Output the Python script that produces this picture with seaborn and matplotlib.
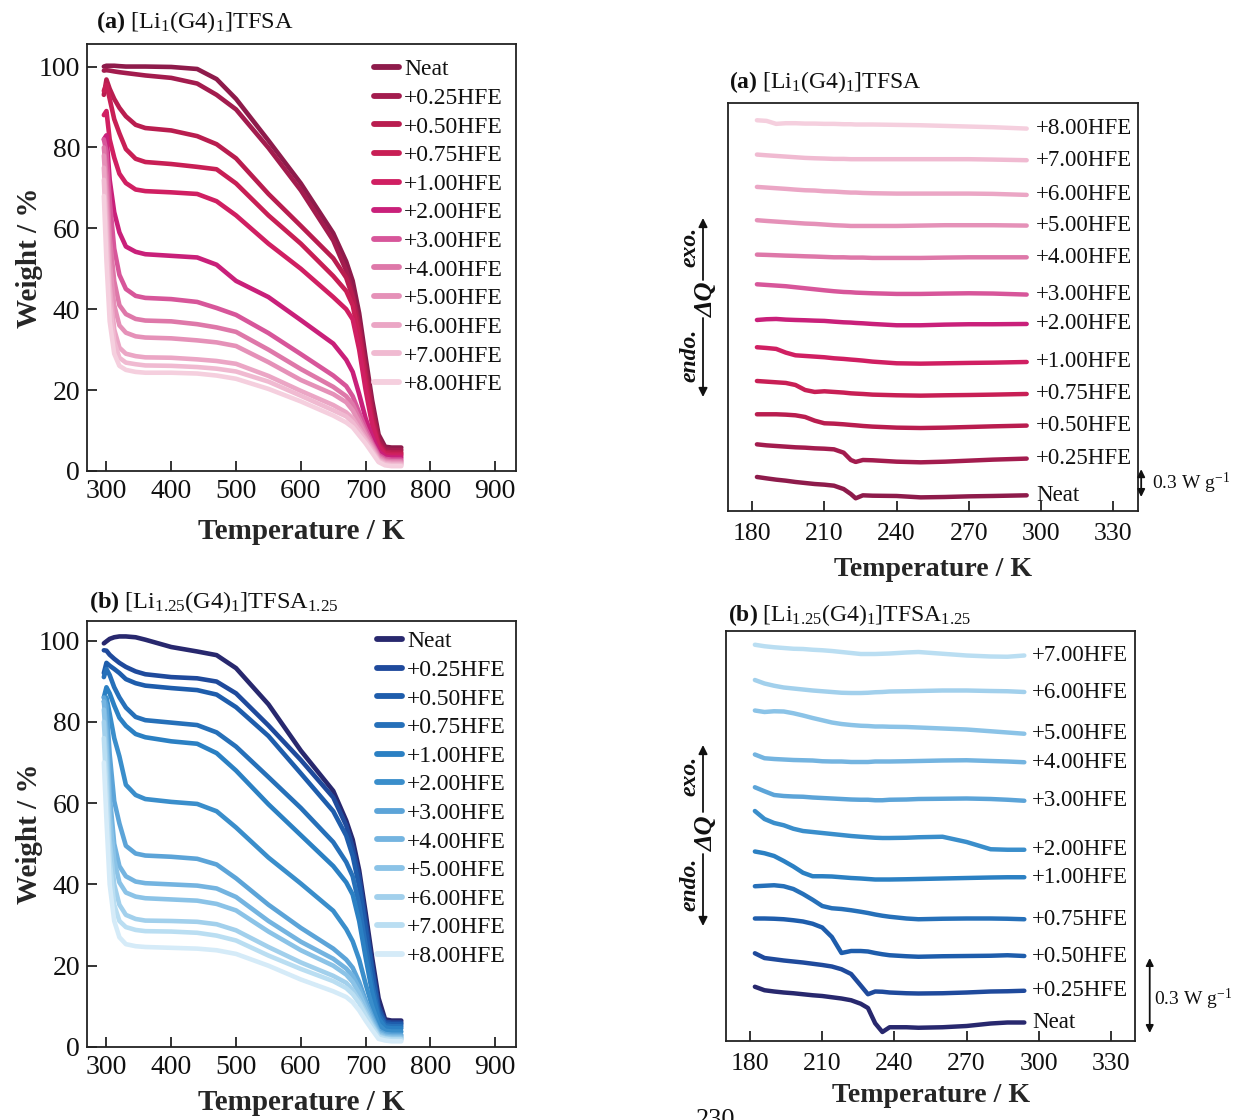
import numpy as np
import pandas as pd
import matplotlib
matplotlib.use("Agg")
import matplotlib.pyplot as plt
import matplotlib.transforms as mtransforms
import seaborn as sns

# ---------------- data ----------------
samples = ["Neat", "+0.25HFE", "+0.50HFE", "+0.75HFE", "+1.00HFE", "+2.00HFE",
           "+3.00HFE", "+4.00HFE", "+5.00HFE", "+6.00HFE", "+7.00HFE", "+8.00HFE"]

pink = ["#8E1B4B", "#A31C4E", "#B91D4F", "#C81F55", "#D01F62", "#C9207A",
        "#D7569A", "#DE78A9", "#E591B8", "#EBA6C5", "#F0BAD1", "#F5CFDE"]
blue = ["#28286E", "#1F4A9C", "#1E5DAC", "#2670B9", "#2B80C3", "#3A8ECB",
        "#5CA4D8", "#74B4E0", "#8BC3E7", "#A2D0EC", "#BADEF2", "#D5EBF8"]

# TGA temperature grid (K)
tga_T = [296, 300, 305, 312, 320, 330, 345, 360, 400, 440, 470, 500,
         550, 600, 650, 670, 680, 690, 700, 710, 720, 730, 740, 755]

# (a) [Li1(G4)1]TFSA  weight / %
tga_a_neat = [100.0, 100.2, 100.2, 100.2, 100.1, 100.0, 100.0, 100.0, 99.9, 99.4, 96.9, 92.0, 81.7, 71.1, 58.8, 51.8, 47.0, 39.0, 28.0, 17.5, 9.0, 6.0, 5.8, 5.8]
tga_a_025 = [99.0, 99.1, 99.0, 98.8, 98.6, 98.4, 98.1, 97.8, 97.2, 95.8, 93.0, 89.4, 79.9, 69.4, 57.0, 49.5, 44.0, 36.5, 26.0, 16.0, 8.0, 5.4, 5.2, 5.2]
tga_a_050 = [93.0, 96.8, 94.5, 92.0, 89.8, 87.7, 85.6, 84.8, 84.2, 82.8, 80.8, 77.3, 68.5, 60.6, 52.6, 47.8, 43.0, 35.0, 24.0, 14.0, 7.0, 4.8, 4.6, 4.6]
tga_a_075 = [94.0, 95.5, 92.0, 87.0, 83.5, 79.6, 77.2, 76.4, 75.9, 75.2, 74.6, 71.1, 63.2, 56.2, 48.2, 44.5, 41.0, 33.0, 22.0, 12.5, 6.5, 4.4, 4.2, 4.2]
tga_a_100 = [88.0, 89.0, 82.0, 77.5, 73.5, 71.2, 69.6, 69.2, 68.9, 68.5, 66.7, 63.2, 56.2, 50.0, 43.0, 40.0, 37.5, 30.0, 20.0, 11.5, 6.0, 4.0, 3.8, 3.8]
tga_a_200 = [82.0, 83.0, 72.0, 64.0, 59.0, 55.5, 54.2, 53.6, 53.2, 52.8, 51.0, 47.0, 43.0, 37.3, 31.5, 27.5, 24.5, 19.0, 13.0, 8.5, 4.8, 3.5, 3.3, 3.3]
tga_a_300 = [82.0, 79.0, 67.0, 55.0, 48.5, 45.0, 43.3, 42.8, 42.5, 41.8, 40.3, 38.6, 34.1, 28.9, 23.6, 21.0, 18.5, 14.5, 10.5, 7.0, 4.0, 3.0, 2.8, 2.8]
tga_a_400 = [80.0, 73.0, 58.0, 47.0, 41.0, 38.8, 37.6, 37.2, 37.0, 36.3, 35.5, 34.4, 30.0, 25.2, 20.8, 18.5, 16.5, 13.0, 9.5, 6.5, 3.6, 2.6, 2.4, 2.4]
tga_a_500 = [78.0, 68.0, 52.0, 41.0, 36.0, 34.2, 33.3, 33.0, 32.8, 32.3, 31.8, 30.9, 26.9, 22.5, 19.0, 17.0, 15.0, 12.0, 8.8, 6.0, 3.2, 2.3, 2.1, 2.1]
tga_a_600 = [75.0, 63.0, 46.0, 35.0, 30.5, 29.0, 28.4, 28.1, 28.0, 27.6, 27.2, 26.5, 23.5, 19.8, 16.3, 14.5, 13.0, 10.5, 8.0, 5.5, 2.8, 2.0, 1.8, 1.8]
tga_a_700 = [72.0, 58.0, 42.0, 32.0, 28.0, 26.8, 26.4, 26.1, 26.0, 25.7, 25.3, 24.6, 22.1, 18.6, 15.0, 13.5, 12.0, 9.8, 7.5, 5.0, 2.5, 1.7, 1.5, 1.5]
tga_a_800 = [68.0, 52.0, 37.0, 29.0, 26.0, 25.0, 24.5, 24.3, 24.3, 24.1, 23.6, 22.8, 20.3, 17.2, 13.7, 12.0, 10.8, 8.8, 6.8, 4.5, 2.2, 1.4, 1.2, 1.2]

# (b) [Li1.25(G4)1]TFSA1.25  weight / %
tga_b_neat = [99.3, 99.8, 100.4, 100.8, 101.0, 101.0, 100.8, 100.2, 98.4, 97.3, 96.4, 93.2, 84.3, 72.9, 63.0, 55.7, 51.0, 43.5, 33.0, 22.0, 12.0, 6.8, 6.5, 6.5]
tga_b_025 = [97.6, 97.5, 96.5, 95.5, 94.5, 93.5, 92.4, 91.7, 91.0, 90.7, 89.9, 87.0, 79.1, 70.6, 61.4, 54.5, 49.0, 42.0, 31.0, 20.0, 10.0, 6.2, 6.0, 6.0]
tga_b_050 = [92.0, 94.5, 93.8, 93.0, 92.0, 90.5, 89.5, 88.9, 88.3, 87.8, 86.7, 83.6, 76.5, 67.3, 58.0, 52.0, 47.0, 39.5, 29.0, 18.5, 9.0, 5.8, 5.6, 5.6]
tga_b_075 = [91.0, 93.0, 91.5, 88.5, 86.0, 83.5, 81.2, 80.4, 79.8, 79.2, 77.4, 73.9, 66.4, 58.8, 50.4, 45.5, 42.0, 35.0, 25.0, 15.5, 8.0, 5.3, 5.1, 5.1]
tga_b_100 = [86.0, 88.5, 87.0, 84.0, 81.0, 79.0, 77.0, 76.2, 75.2, 74.6, 72.3, 68.0, 59.7, 52.1, 44.5, 40.5, 37.5, 31.0, 22.0, 13.5, 7.0, 4.8, 4.6, 4.6]
tga_b_200 = [85.0, 86.0, 82.0, 76.0, 71.5, 64.5, 62.0, 61.0, 60.3, 59.8, 58.0, 54.0, 46.6, 40.2, 33.5, 29.0, 26.0, 21.5, 15.5, 10.0, 5.5, 4.0, 3.8, 3.8]
tga_b_300 = [86.0, 84.0, 72.0, 60.5, 55.0, 49.5, 47.6, 47.1, 46.8, 46.3, 44.9, 41.5, 35.0, 29.3, 24.2, 21.5, 19.5, 16.0, 11.5, 7.5, 4.0, 3.2, 3.0, 3.0]
tga_b_400 = [85.0, 78.0, 62.0, 50.0, 44.5, 42.0, 40.7, 40.3, 40.0, 39.7, 39.0, 36.9, 31.0, 25.9, 21.7, 19.3, 17.5, 14.5, 10.5, 6.8, 3.6, 2.8, 2.6, 2.6]
tga_b_500 = [83.0, 74.0, 57.0, 46.0, 40.5, 38.0, 37.0, 36.6, 36.3, 36.0, 35.2, 33.6, 28.4, 23.8, 20.0, 17.8, 16.0, 13.2, 9.5, 6.0, 3.2, 2.5, 2.3, 2.3]
tga_b_600 = [80.0, 69.0, 51.0, 40.0, 35.0, 32.5, 31.5, 31.1, 31.0, 30.8, 30.2, 28.7, 24.6, 20.8, 17.5, 15.8, 14.0, 11.5, 8.5, 5.5, 2.8, 2.2, 2.0, 2.0]
tga_b_700 = [76.0, 63.0, 46.0, 35.0, 31.0, 29.5, 28.8, 28.5, 28.4, 28.1, 27.4, 26.2, 22.5, 19.2, 16.2, 14.5, 13.0, 10.8, 7.8, 5.0, 2.5, 2.0, 1.8, 1.8]
tga_b_800 = [70.0, 56.0, 40.0, 31.0, 27.0, 25.3, 24.8, 24.6, 24.4, 24.2, 23.8, 22.9, 20.0, 16.6, 13.7, 12.3, 11.0, 9.0, 6.5, 4.2, 2.0, 1.6, 1.4, 1.4]

# DSC (a): temperature grid (K) and offset-stacked heat flow (W g-1)
dsc_a_T = [182, 186, 190, 194, 198, 202, 206, 210, 214, 218, 221, 223, 226, 230, 240, 250, 260, 270, 280, 294]
dsc_a_neat = [0.367, 0.352, 0.338, 0.327, 0.313, 0.302, 0.291, 0.284, 0.273, 0.237, 0.183, 0.137, 0.169, 0.165, 0.162, 0.147, 0.151, 0.158, 0.162, 0.169]
dsc_a_025 = [0.719, 0.708, 0.701, 0.694, 0.687, 0.683, 0.676, 0.672, 0.665, 0.629, 0.550, 0.529, 0.550, 0.547, 0.532, 0.525, 0.532, 0.543, 0.554, 0.565]
dsc_a_050 = [1.043, 1.043, 1.043, 1.039, 1.032, 1.014, 0.974, 0.946, 0.942, 0.935, 0.928, 0.924, 0.917, 0.910, 0.899, 0.895, 0.899, 0.906, 0.913, 0.921]
dsc_a_075 = [1.402, 1.395, 1.388, 1.381, 1.359, 1.305, 1.284, 1.291, 1.284, 1.277, 1.269, 1.266, 1.262, 1.255, 1.248, 1.244, 1.248, 1.251, 1.255, 1.262]
dsc_a_100 = [1.766, 1.758, 1.748, 1.708, 1.679, 1.672, 1.665, 1.658, 1.647, 1.640, 1.633, 1.629, 1.622, 1.611, 1.593, 1.589, 1.593, 1.597, 1.600, 1.607]
dsc_a_200 = [2.060, 2.068, 2.071, 2.064, 2.060, 2.057, 2.053, 2.050, 2.042, 2.035, 2.032, 2.028, 2.024, 2.017, 2.003, 2.003, 2.010, 2.014, 2.014, 2.017]
dsc_a_300 = [2.445, 2.438, 2.431, 2.424, 2.413, 2.402, 2.391, 2.380, 2.370, 2.362, 2.359, 2.355, 2.352, 2.348, 2.341, 2.341, 2.345, 2.348, 2.345, 2.334]
dsc_a_400 = [2.765, 2.762, 2.758, 2.754, 2.751, 2.747, 2.744, 2.740, 2.736, 2.736, 2.733, 2.733, 2.733, 2.729, 2.729, 2.729, 2.733, 2.736, 2.736, 2.736]
dsc_a_500 = [3.136, 3.128, 3.121, 3.114, 3.107, 3.100, 3.096, 3.089, 3.082, 3.078, 3.074, 3.074, 3.074, 3.074, 3.074, 3.078, 3.082, 3.082, 3.082, 3.078]
dsc_a_600 = [3.495, 3.488, 3.481, 3.474, 3.466, 3.459, 3.456, 3.448, 3.445, 3.438, 3.434, 3.434, 3.430, 3.427, 3.423, 3.423, 3.423, 3.423, 3.420, 3.409]
dsc_a_700 = [3.844, 3.836, 3.829, 3.822, 3.815, 3.808, 3.804, 3.801, 3.797, 3.797, 3.794, 3.794, 3.794, 3.794, 3.794, 3.794, 3.794, 3.794, 3.790, 3.783]
dsc_a_800 = [4.214, 4.207, 4.175, 4.182, 4.182, 4.178, 4.178, 4.175, 4.175, 4.171, 4.171, 4.168, 4.168, 4.168, 4.164, 4.160, 4.153, 4.146, 4.139, 4.124]

# DSC (b)
dsc_b_T = [182, 186, 190, 194, 198, 202, 206, 210, 214, 218, 222, 226, 229, 232, 235, 238, 245, 250, 260, 270, 280, 287, 294]
dsc_b_neat = [0.215, 0.201, 0.196, 0.192, 0.189, 0.185, 0.181, 0.178, 0.173, 0.168, 0.161, 0.147, 0.130, 0.069, 0.034, 0.053, 0.053, 0.051, 0.053, 0.058, 0.068, 0.072, 0.072]
dsc_b_025 = [0.349, 0.330, 0.325, 0.320, 0.316, 0.312, 0.307, 0.302, 0.296, 0.285, 0.266, 0.220, 0.185, 0.196, 0.195, 0.192, 0.189, 0.188, 0.189, 0.192, 0.196, 0.197, 0.199]
dsc_b_050 = [0.488, 0.488, 0.487, 0.485, 0.481, 0.476, 0.467, 0.452, 0.414, 0.350, 0.358, 0.358, 0.356, 0.350, 0.345, 0.341, 0.337, 0.335, 0.337, 0.338, 0.339, 0.341, 0.338]
dsc_b_075 = [0.617, 0.619, 0.621, 0.617, 0.606, 0.586, 0.563, 0.538, 0.529, 0.526, 0.521, 0.515, 0.510, 0.504, 0.499, 0.495, 0.488, 0.485, 0.487, 0.488, 0.488, 0.487, 0.485]
dsc_b_100 = [0.756, 0.749, 0.738, 0.718, 0.696, 0.671, 0.657, 0.657, 0.656, 0.653, 0.650, 0.648, 0.646, 0.644, 0.644, 0.644, 0.645, 0.646, 0.648, 0.650, 0.652, 0.653, 0.653]
dsc_b_200 = [0.918, 0.886, 0.870, 0.861, 0.847, 0.838, 0.834, 0.830, 0.826, 0.822, 0.818, 0.815, 0.813, 0.811, 0.810, 0.810, 0.811, 0.813, 0.815, 0.794, 0.765, 0.763, 0.763]
dsc_b_300 = [1.013, 0.997, 0.982, 0.978, 0.976, 0.975, 0.972, 0.970, 0.968, 0.966, 0.964, 0.963, 0.963, 0.961, 0.961, 0.963, 0.964, 0.966, 0.967, 0.968, 0.966, 0.963, 0.959]
dsc_b_400 = [1.144, 1.129, 1.126, 1.124, 1.122, 1.121, 1.120, 1.117, 1.116, 1.116, 1.114, 1.114, 1.114, 1.116, 1.116, 1.116, 1.117, 1.118, 1.120, 1.121, 1.118, 1.116, 1.113]
dsc_b_500 = [1.320, 1.314, 1.317, 1.316, 1.309, 1.300, 1.290, 1.281, 1.272, 1.266, 1.262, 1.259, 1.258, 1.256, 1.256, 1.255, 1.254, 1.252, 1.248, 1.244, 1.237, 1.232, 1.227]
dsc_b_600 = [1.442, 1.428, 1.419, 1.412, 1.408, 1.404, 1.400, 1.397, 1.394, 1.391, 1.390, 1.390, 1.391, 1.393, 1.394, 1.396, 1.397, 1.398, 1.400, 1.400, 1.398, 1.397, 1.394]
dsc_b_700 = [1.583, 1.577, 1.573, 1.570, 1.567, 1.566, 1.563, 1.561, 1.558, 1.554, 1.550, 1.546, 1.546, 1.546, 1.547, 1.548, 1.552, 1.554, 1.547, 1.540, 1.536, 1.535, 1.540]

tga_xticks = [300, 400, 500, 600, 700, 800, 900]
tga_yticks = [0, 20, 40, 60, 80, 100]
dsc_xticks = [180, 210, 240, 270, 300, 330]

tga_a = [tga_a_neat, tga_a_025, tga_a_050, tga_a_075, tga_a_100, tga_a_200,
         tga_a_300, tga_a_400, tga_a_500, tga_a_600, tga_a_700, tga_a_800]
tga_b = [tga_b_neat, tga_b_025, tga_b_050, tga_b_075, tga_b_100, tga_b_200,
         tga_b_300, tga_b_400, tga_b_500, tga_b_600, tga_b_700, tga_b_800]
dsc_a = [dsc_a_neat, dsc_a_025, dsc_a_050, dsc_a_075, dsc_a_100, dsc_a_200,
         dsc_a_300, dsc_a_400, dsc_a_500, dsc_a_600, dsc_a_700, dsc_a_800]
dsc_b = [dsc_b_neat, dsc_b_025, dsc_b_050, dsc_b_075, dsc_b_100, dsc_b_200,
         dsc_b_300, dsc_b_400, dsc_b_500, dsc_b_600, dsc_b_700]

# ---------------- style ----------------
sns.set_theme(style="white")
plt.rcParams["font.family"] = ["Liberation Serif", "DejaVu Serif"]
plt.rcParams["mathtext.fontset"] = "custom"
plt.rcParams["mathtext.rm"] = "Liberation Serif"
plt.rcParams["mathtext.it"] = "Liberation Serif:italic"
plt.rcParams["mathtext.bf"] = "Liberation Serif:bold"
plt.rcParams["axes.edgecolor"] = "#222222"
plt.rcParams["text.color"] = "#111111"
plt.rcParams["xtick.color"] = "#222222"
plt.rcParams["ytick.color"] = "#222222"

FW, FH = 1233, 1120
fig = plt.figure(figsize=(FW / 100, FH / 100), dpi=100)
fig.patch.set_facecolor("white")


def px_axes(l, t, r, b):
    return fig.add_axes([l / FW, 1 - b / FH, (r - l) / FW, (b - t) / FH])


def long_df(xs, ys_list, names):
    rows = []
    for name, ys in zip(names, ys_list):
        for x, y in zip(xs, ys):
            rows.append((x, y, name))
    return pd.DataFrame(rows, columns=["T", "v", "sample"])


def style_axes(ax, xticks, tick_size, pad):
    for s in ax.spines.values():
        s.set_linewidth(1.3)
        s.set_visible(True)
    ax.set_xticks(xticks)
    ax.tick_params(axis="both", direction="in", length=7, width=1.2,
                   labelsize=tick_size, pad=pad, top=False, right=False,
                   bottom=True, left=True, colors="#111111")


def tga_panel(ax, data, pal, ylim_top, title, title_xy, leg_xy, xlab_pad):
    df = long_df(tga_T, data, samples)
    sns.lineplot(data=df, x="T", y="v", hue="sample", hue_order=samples,
                 palette=pal, estimator=None, sort=False, lw=3.3, ax=ax,
                 legend=True)
    old = ax.get_legend()
    handles = old.legend_handles
    labs = [t.get_text() for t in old.get_texts()]
    old.remove()
    leg = ax.legend(handles, labs, loc="upper left", bbox_to_anchor=leg_xy,
                    frameon=False, fontsize=17, handlelength=1.05,
                    handletextpad=0.22, labelspacing=0.30, borderpad=0,
                    borderaxespad=0)
    for ln in leg.get_lines():
        ln.set_linewidth(4.2)
        ln.set_solid_capstyle("round")
    ax.set_xlim(270, 932)
    ax.set_ylim(0, ylim_top)
    style_axes(ax, tga_xticks, 20, 6)
    ax.set_yticks(tga_yticks)
    ax.tick_params(axis="y", pad=5)
    ax.set_xlabel("Temperature / K", fontsize=21, fontweight="bold", labelpad=xlab_pad)
    ax.set_ylabel("Weight / %", fontsize=21, fontweight="bold", labelpad=-3)
    ax.text(title_xy[0], title_xy[1], title, transform=ax.transAxes,
            fontsize=17.5, ha="left", va="center")


def dsc_panel(ax, xs, data, pal, names, ylim_top, lab_x, title, title_xy,
              bar_x, bar_y0, bar_text_x, bar_text_y, xlab_pad):
    df = long_df(xs, data, names)
    sns.lineplot(data=df, x="T", y="v", hue="sample", hue_order=names,
                 palette=pal[:len(names)], estimator=None, sort=False, lw=3.2,
                 ax=ax, legend=False)
    for name, ys in zip(names, data):
        ax.text(lab_x, ys[-1], name, fontsize=16.5, ha="left", va="center")
    ax.set_xlim(170, 340)
    ax.set_ylim(0, ylim_top)
    style_axes(ax, dsc_xticks, 18.5, 9)
    ax.set_yticks([])
    ax.set_ylabel("")
    ax.set_xlabel("Temperature / K", fontsize=20, fontweight="bold", labelpad=xlab_pad)
    ax.text(title_xy[0], title_xy[1], title, transform=ax.transAxes,
            fontsize=17, ha="left", va="center")
    tr = mtransforms.blended_transform_factory(ax.transAxes, ax.transData)
    ax.annotate("", xy=(bar_x, bar_y0), xytext=(bar_x, bar_y0 + 0.3),
                xycoords=tr, textcoords=tr,
                arrowprops=dict(arrowstyle="<|-|>", color="#111111", lw=1.3,
                                mutation_scale=11, shrinkA=0, shrinkB=0),
                annotation_clip=False)
    ax.text(bar_text_x, bar_text_y, "0.3 W g$^{-1}$", transform=tr,
            fontsize=14, ha="left", va="center", clip_on=False)


def dq_label(x_txt, x_arrow, y_exo, y_dq, y_endo, y_top, y_bot, dq_half):
    fx = lambda x: x / FW
    fy = lambda y: 1 - y / FH
    kw = dict(rotation=90, ha="center", va="center", fontsize=17,
              fontstyle="italic", fontweight="bold")
    fig.text(fx(x_txt), fy(y_exo), "exo.", **kw)
    fig.text(fx(x_txt), fy(y_endo), "endo.", **kw)
    fig.text(fx(x_arrow + 3), fy(y_dq), "ΔQ", rotation=90, ha="center",
             va="center", fontsize=19, fontstyle="italic", fontweight="bold")
    ap = dict(arrowstyle="-|>", color="#111111", lw=1.3, mutation_scale=13,
              shrinkA=0, shrinkB=0)
    fig.add_artist(matplotlib.patches.FancyArrowPatch(
        (fx(x_arrow), fy(y_dq - dq_half)), (fx(x_arrow), fy(y_top)),
        transform=fig.transFigure, **ap))
    fig.add_artist(matplotlib.patches.FancyArrowPatch(
        (fx(x_arrow), fy(y_dq + dq_half)), (fx(x_arrow), fy(y_bot)),
        transform=fig.transFigure, **ap))


# ---------------- panels ----------------
ax1 = px_axes(87, 43.5, 516, 471)
tga_panel(ax1, tga_a, pink, 105.7, r"$\mathbf{(a)}$ [Li$_{1}$(G4)$_{1}$]TFSA",
          (0.021, 1.051), (0.669, 0.964), 10)

ax3 = px_axes(87, 621, 516, 1047)
tga_panel(ax3, tga_b, blue, 104.8,
          r"$\mathbf{(b)}$ [Li$_{1.25}$(G4)$_{1}$]TFSA$_{1.25}$",
          (0.005, 1.045), (0.676, 0.977), 6)

ax2 = px_axes(728, 103, 1137.5, 511)
dsc_panel(ax2, dsc_a_T, dsc_a, pink, samples, 4.40, 298.0,
          r"$\mathbf{(a)}$ [Li$_{1}$(G4)$_{1}$]TFSA", (0.003, 1.052),
          1.009, 0.151, 1.035, 0.302, 8.5)

ax4 = px_axes(726, 631, 1135, 1040.5)
dsc_panel(ax4, dsc_b_T, dsc_b, blue, samples[:11], 1.638, 297.2,
          r"$\mathbf{(b)}$ [Li$_{1.25}$(G4)$_{1}$]TFSA$_{1.25}$", (0.004, 1.038),
          1.036, 0.03, 1.047, 0.165, 5.5)

dq_label(690, 703, 247, 299, 355, 218, 397, 19)
dq_label(690, 703, 776, 833, 884, 745, 926, 21)

fig.text(696 / FW, 1 - 1109 / FH, "230", fontsize=19, ha="left", va="top")

fig.savefig("out.png", dpi=100, facecolor="white")
